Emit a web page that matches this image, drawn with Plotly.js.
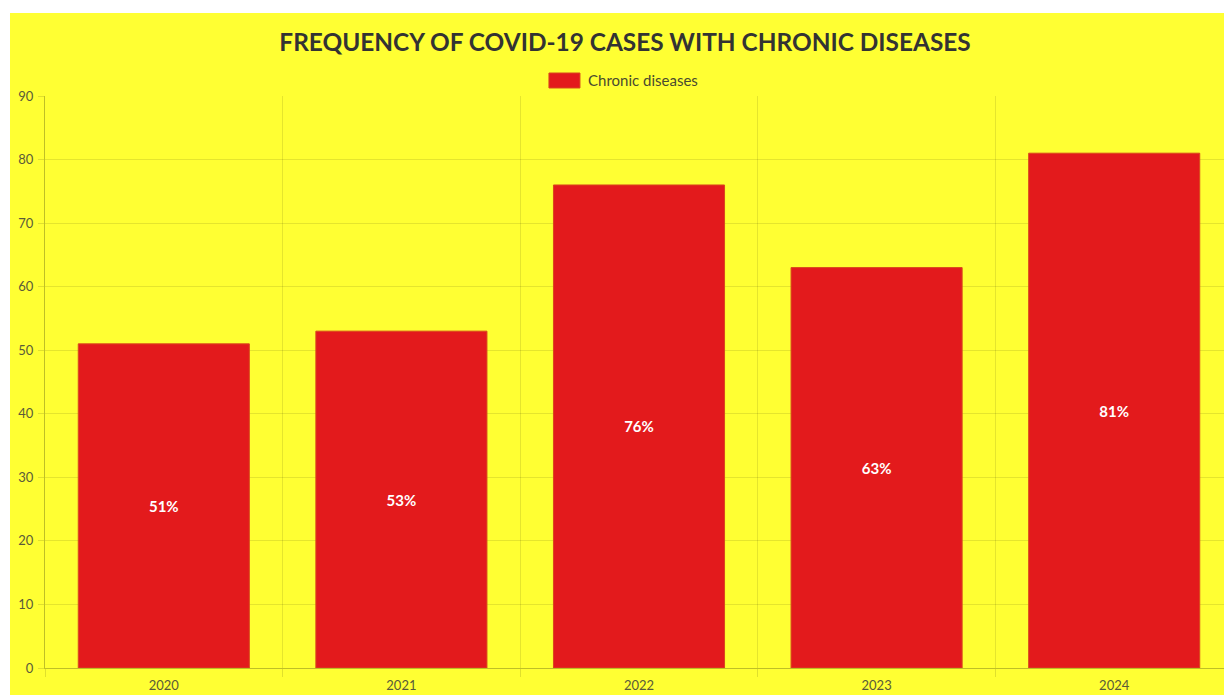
<!DOCTYPE html>
<html>
<head>
<meta charset="utf-8">
<script src="https://cdn.plot.ly/plotly-3.0.1.min.js"></script>
<style>
html,body{margin:0;padding:0;background:#fff;overflow:hidden;width:1224px;height:695px;}
#chart{position:absolute;left:10px;top:13px;width:1230px;height:682px;}
</style>
</head>
<body>
<div id="chart"></div>
<script>
const years = ['2020', '2021', '2022', '2023', '2024'];
const chronicValues = [51, 53, 76, 63, 81];
const seriesName = 'Chronic diseases';
const chartTitle = 'FREQUENCY OF COVID-19 CASES WITH CHRONIC DISEASES';
const yTicks = [0, 10, 20, 30, 40, 50, 60, 70, 80, 90];

const barColor = '#E31A1C';
const bg = '#FFFF33';
const font = 'Lato, "Open Sans", sans-serif';

const trace = {
  type: 'bar',
  x: years,
  y: chronicValues,
  name: seriesName,
  width: 0.72,
  marker: {color: barColor, line: {color: '#D9481C', width: 1}},
  texttemplate: '%{y}%',
  textposition: 'inside',
  insidetextanchor: 'middle',
  textangle: 0,
  textfont: {family: font, size: 15, color: '#ffffff', weight: 'bold'},
  hoverinfo: 'x+y',
  showlegend: false
};

const layout = {
  width: 1230,
  height: 682,
  paper_bgcolor: bg,
  plot_bgcolor: bg,
  margin: {l: 35, r: 7, t: 83, b: 27},
  font: {family: font, color: '#5a5a3a'},
  title: {
    text: chartTitle,
    font: {family: font, size: 24.4, color: '#333', weight: 'bold'},
    x: 0.5, xref: 'container', xanchor: 'center',
    y: 1 - 29/682, yref: 'container', yanchor: 'middle'
  },
  xaxis: {
    type: 'category',
    tickson: 'boundaries',
    ticks: 'outside',
    ticklen: 8,
    tickcolor: 'rgba(0,0,0,0.12)',
    showgrid: true,
    gridcolor: 'rgba(0,0,0,0.1)',
    gridwidth: 1,
    showline: true,
    linecolor: 'rgba(0,0,0,0.25)',
    linewidth: 1,
    tickfont: {family: font, size: 13, color: '#5a5a3a'},
    ticklabelstandoff: 5,
    fixedrange: true
  },
  yaxis: {
    range: [0, 90],
    tickvals: yTicks,
    ticks: 'outside',
    ticklen: 6,
    tickcolor: 'rgba(0,0,0,0.12)',
    showgrid: true,
    gridcolor: 'rgba(0,0,0,0.1)',
    gridwidth: 1,
    zeroline: false,
    showline: true,
    linecolor: 'rgba(0,0,0,0.25)',
    linewidth: 1,
    tickfont: {family: font, size: 13, color: '#5a5a3a'},
    ticklabelstandoff: 2,
    fixedrange: true
  },
  bargap: 0,
  shapes: [{
    type: 'rect', xref: 'paper', yref: 'paper',
    x0: 0.4242, x1: 0.4503, y0: 1.0140, y1: 1.0402,
    fillcolor: barColor, line: {color: '#D9481C', width: 1}
  }],
  annotations: [{
    text: seriesName, xref: 'paper', yref: 'paper',
    x: 0.4554, y: 1.0271, xanchor: 'left', yanchor: 'middle',
    showarrow: false,
    font: {family: font, size: 15, color: '#4a4a30'}
  }]
};

Plotly.newPlot('chart', [trace], layout, {displayModeBar: false, staticPlot: true});
</script>
</body>
</html>
